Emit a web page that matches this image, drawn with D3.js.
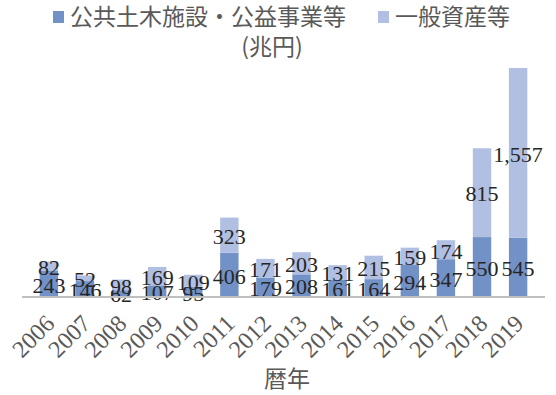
<!DOCTYPE html>
<html>
    <head>
        <meta charset='UTF-8'>
        <title>災害被害額</title>
        <script src='https://d3js.org/d3.v7.min.js'></script>
        <style type='text/css'>
        body {
            margin: 0;
            background: #fff;
        }
        .label {
            font-family: 'Liberation Serif', 'DejaVu Serif', serif;
            font-size: 22px;
            fill: #262626;
        }
        .year {
            font-family: 'Liberation Serif', 'DejaVu Serif', serif;
            font-size: 24px;
            fill: #595959;
        }
        .jp {
            font-family: 'Noto Sans CJK JP', sans-serif;
            font-size: 23px;
            fill: #595959;
        }
        </style>
    </head>
    <body>
        <div id="container"></div>
    </body>

    <script>
        // data
        var years   = ["2006", "2007", "2008", "2009", "2010", "2011", "2012", "2013", "2014", "2015", "2016", "2017", "2018", "2019"];
        var koukyou = [243, 146, 62, 107, 95, 406, 179, 208, 161, 164, 294, 347, 550, 545];
        var ippan   = [82, 52, 98, 169, 109, 323, 171, 203, 131, 215, 159, 174, 815, 1557];
        var seriesNames = ["公共土木施設・公益事業等", "一般資産等"];
        var colors  = ["#7291c6", "#b1bfe3"];

        var width = 556, height = 395;

        var svg = d3.select("#container").append("svg")
            .attr("width", width)
            .attr("height", height);

        // scales
        var x = d3.scaleBand()
            .domain(years)
            .range([22, 545])
            .padding(0.49);

        var y = d3.scaleLinear()
            .domain([0, 2500])
            .range([297, 24.6]);

        // stack the two series
        var rows = years.map(function(d, i) {
            return {year: d, koukyou: koukyou[i], ippan: ippan[i]};
        });
        var stacked = d3.stack().keys(["koukyou", "ippan"])(rows);

        var fmt = d3.format(",");

        var layers = svg.selectAll(".layer")
            .data(stacked)
            .enter().append("g")
            .attr("fill", function(d, i) { return colors[i]; });

        layers.selectAll("rect")
            .data(function(d) { return d; })
            .enter().append("rect")
            .attr("x", function(d) { return x(d.data.year); })
            .attr("y", function(d) { return y(d[1]); })
            .attr("width", x.bandwidth())
            .attr("height", function(d) { return y(d[0]) - y(d[1]); });

        // x axis line
        svg.append("line")
            .attr("x1", 22).attr("x2", 545)
            .attr("y1", y(0)).attr("y2", y(0))
            .attr("stroke", "#bfbfbf")
            .attr("stroke-width", 2);

        // value labels, centred in each segment
        layers.selectAll("text")
            .data(function(d) { return d; })
            .enter().append("text")
            .attr("class", "label")
            .attr("text-anchor", "middle")
            .attr("dy", "0.4em")
            .attr("x", function(d) { return x(d.data.year) + x.bandwidth() / 2; })
            .attr("y", function(d) { return (y(d[0]) + y(d[1])) / 2; })
            .text(function(d) { return fmt(d[1] - d[0]); });

        // rotated year labels
        svg.selectAll(".year")
            .data(years)
            .enter().append("text")
            .attr("class", "year")
            .attr("text-anchor", "end")
            .attr("transform", function(d) {
                return "translate(" + (x(d) + x.bandwidth() / 2 + 7) + ",325) rotate(-45)";
            })
            .text(function(d) { return d; });

        // axis title
        svg.append("text")
            .attr("class", "jp")
            .attr("text-anchor", "middle")
            .attr("x", 287).attr("y", 387)
            .text("暦年");

        // unit
        svg.append("text")
            .attr("class", "jp")
            .attr("text-anchor", "middle")
            .attr("x", 272).attr("y", 55)
            .text("(兆円)");

        // legend
        var legendX = [53, 378];
        var legend = svg.selectAll(".legend")
            .data(seriesNames)
            .enter().append("g")
            .attr("transform", function(d, i) { return "translate(" + legendX[i] + ",0)"; });

        legend.append("rect")
            .attr("y", 11)
            .attr("width", 11)
            .attr("height", 12)
            .attr("fill", function(d, i) { return colors[i]; });

        legend.append("text")
            .attr("class", "jp")
            .attr("x", 17)
            .attr("y", 25)
            .text(function(d) { return d; });
    </script>
</html>
